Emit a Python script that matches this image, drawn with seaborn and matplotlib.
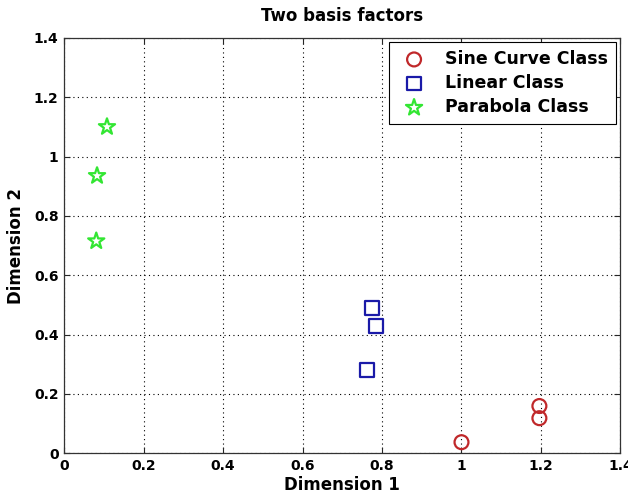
import matplotlib
matplotlib.use("Agg")
import matplotlib.pyplot as plt
import seaborn as sns
import pandas as pd

sine_x = [1.0, 1.196, 1.196]
sine_y = [0.037, 0.159, 0.118]
lin_x = [0.775, 0.785, 0.762]
lin_y = [0.489, 0.428, 0.280]
par_x = [0.108, 0.083, 0.081]
par_y = [1.10, 0.935, 0.715]
classes = ["Sine Curve Class", "Linear Class", "Parabola Class"]
ticks = [0, 0.2, 0.4, 0.6, 0.8, 1, 1.2, 1.4]
tick_labels = ["0", "0.2", "0.4", "0.6", "0.8", "1", "1.2", "1.4"]

sns.set_style("white")
plt.rcParams['font.family'] = ['DejaVu Sans']
plt.rcParams['text.color'] = 'black'

fig = plt.figure(figsize=(6.28, 4.98), dpi=100)
ax = fig.add_axes([0.102, 0.090, 0.886, 0.834])

styles = [("o", "#c0282a", 100), ("s", "#1a1aa8", 95), ("*", "#33e633", 150)]
for (xs, ys), name, (m, c, s) in zip([(sine_x, sine_y), (lin_x, lin_y), (par_x, par_y)], classes, styles):
    df = pd.DataFrame({"x": xs, "y": ys})
    sns.scatterplot(data=df, x="x", y="y", ax=ax, marker=m, s=s,
                    fc="none", ec=c, linewidth=1.6, label=name)

ax.set_xlim(0, 1.4)
ax.set_ylim(0, 1.4)
ax.set_xticks(ticks)
ax.set_xticklabels(tick_labels, fontsize=10, fontweight="bold", color="black")
ax.set_yticks(ticks)
ax.set_yticklabels(tick_labels, fontsize=10, fontweight="bold", color="black")
ax.grid(True, color="black", linestyle=(0, (1, 3)), linewidth=0.8)
ax.tick_params(direction="in", length=4, left=True, bottom=True, top=True, right=True, pad=4)
for sp in ax.spines.values():
    sp.set_color("#333333")
    sp.set_linewidth(0.9)
ax.set_xlabel("Dimension 1", fontsize=12, fontweight="bold", labelpad=2, color="black")
ax.set_ylabel("Dimension 2", fontsize=12, fontweight="bold", labelpad=6, color="black")
ax.set_title("Two basis factors", fontsize=12, fontweight="bold", pad=12, color="black")
leg = ax.legend(loc="upper right", prop={"size": 12.5, "weight": "bold"}, frameon=True, fancybox=False,
                edgecolor="black", framealpha=1, borderaxespad=0.25,
                handletextpad=0.8, labelspacing=0.35, borderpad=0.45)
leg.get_frame().set_linewidth(0.8)

fig.savefig("out.png", dpi=100)
